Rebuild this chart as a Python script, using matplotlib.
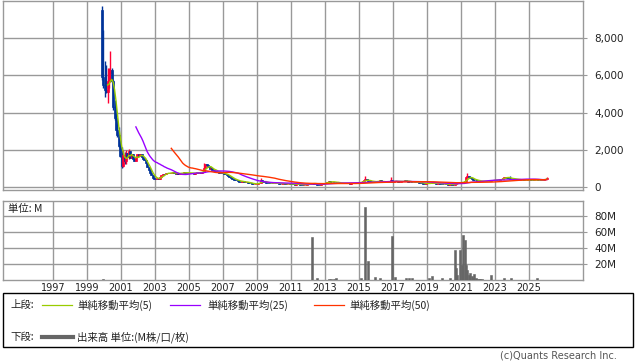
import matplotlib
matplotlib.use('Agg')
import matplotlib.pyplot as plt
from matplotlib.patches import Rectangle
from matplotlib.lines import Line2D
import numpy as np
import pandas as pd

# ---------------- data ----------------
start_year, start_month = 1999, 11          # first monthly bar
first_open = 9500

monthly_close = [
    # 1999 Nov-Dec
    5900, 5500,
    # 2000
    5200, 5100, 5700, 6100, 6300, 5700, 4300, 3700, 3100, 2800, 2200, 1700,
    # 2001
    1150, 1750, 1400, 1850, 1650, 1950, 1600, 1800, 1500, 1400, 1650, 1800,
    # 2002
    1700, 1800, 1650, 1550, 1450, 1300, 1100, 950, 800, 650, 520, 480,
    # 2003
    460, 500, 480, 560, 650, 740, 700, 800, 760, 800, 760, 780,
    # 2004
    820, 760, 740, 780, 720, 760, 800, 780, 820, 790, 760, 790,
    # 2005
    760, 800, 780, 740, 770, 830, 800, 820, 790, 840, 1050, 1250,
    # 2006
    1180, 1100, 1000, 1050, 950, 900, 880, 850, 820, 800, 780, 760,
    # 2007
    740, 700, 680, 620, 560, 500, 460, 420, 400, 380, 350, 320,
    # 2008
    300, 330, 290, 270, 300, 260, 240, 220, 200, 180, 190, 200,
    # 2009
    230, 260, 400, 350, 300, 280, 260, 250, 240, 230, 220, 230,
    # 2010
    240, 220, 230, 210, 200, 210, 220, 200, 190, 200, 210, 200,
    # 2011
    180, 170, 160, 170, 180, 170, 160, 150, 140, 150, 160, 170,
    # 2012
    180, 200, 260, 220, 200, 180, 160, 140, 120, 200, 250, 230,
    # 2013
    260, 300, 330, 300, 280, 320, 290, 270, 250, 260, 240, 230,
    # 2014
    230, 220, 240, 230, 220, 210, 220, 230, 240, 230, 250, 260,
    # 2015
    280, 320, 350, 380, 450, 400, 350, 330, 300, 320, 340, 310,
    # 2016
    300, 340, 380, 320, 300, 290, 280, 270, 300, 290, 380, 320,
    # 2017
    330, 350, 340, 320, 310, 330, 340, 350, 380, 360, 320, 300,
    # 2018
    290, 280, 300, 290, 280, 270, 260, 250, 240, 200, 180, 220,
    # 2019
    240, 230, 220, 230, 240, 220, 210, 230, 220, 210, 200, 190,
    # 2020
    200, 180, 140, 150, 170, 160, 150, 200, 230, 250, 260, 280,
    # 2021
    290, 300, 330, 550, 620, 560, 500, 450, 420, 400, 380, 370,
    # 2022
    350, 340, 330, 340, 350, 330, 340, 360, 350, 380, 400, 420,
    # 2023
    400, 380, 420, 440, 460, 520, 560, 580, 520, 500, 480, 460,
    # 2024
    480, 460, 440, 420, 400, 410, 420, 400, 390, 400, 410, 420,
    # 2025
    410, 400, 390, 400, 410, 420, 400, 390, 400, 420, 450, 480,
    # 2026 Jan
    500,
]

# wicks (month index, high, low)
wick_idx  = [0, 1, 2, 3, 4, 5, 6, 7, 8, 9, 10, 11, 12, 13, 14, 15, 16, 17, 19,
             72, 112, 186, 204, 258, 288, 314]
wick_high = [9680, 8440, 6750, 6530, 6370, 6400, 7280, 6370, 5730, 4670, 3970,
             3600, 3230, 2530, 2170, 2000, 1900, 2000, 2050,
             1320, 500, 610, 580, 750, 620, 540]
wick_low  = [5730, 5300, 4830, 5070, 4500, 5300, 5630, 5630, 4130, 3600, 3070,
             2700, 2170, 1630, 1040, 1100, 1250, 1250, 1550,
             1250, 380, 380, 300, 540, 560, 480]

# volume (million shares) by month index
vol_idx = [1, 148, 152, 160, 162, 164, 165, 183, 186, 188, 193, 196, 205, 207,
           215, 217, 219, 231, 233, 240, 246,
           249, 250, 251, 253, 254, 255, 256, 257, 258, 259, 260, 261, 262,
           263, 264, 265, 266, 267, 268, 275, 284, 289, 307]
vol_m   = [1.5, 54, 3, 1.2, 1.2, 1.5, 3, 2.5, 91, 23.7, 3.3, 1.9, 55, 4,
           2.5, 2.5, 2.5, 1.9, 5, 1.9, 1.9,
           37.5, 15, 6, 38, 19, 56, 50, 19, 12.5, 6, 9, 5, 2.5,
           7.5, 2.5, 1.5, 1.5, 1.5, 1.5, 6, 2, 2, 2]

year_ticks = list(range(1997, 2026, 2))
price_ticks = [0, 2000, 4000, 6000, 8000]
vol_ticks = [20, 40, 60, 80]

ma_windows = [5, 25, 50]
ma_colors = ['#99cc00', '#9900ff', '#ff3300']
ma_labels = ['単純移動平均(5)', '単純移動平均(25)', '単純移動平均(50)']

UP = '#ff0033'
DOWN = '#003399'
GRID = '#999999'

# ---------------- build ----------------
n = len(monthly_close)
idx = np.arange(n)
t = start_year + (start_month - 0.5) / 12 + idx / 12.0
close = np.array(monthly_close, dtype=float)
open_ = np.concatenate([[first_open], close[:-1]])
high = np.maximum(open_, close)
low = np.minimum(open_, close)
for i, h, l in zip(wick_idx, wick_high, wick_low):
    high[i] = max(high[i], h)
    low[i] = min(low[i], l)

W, H = 638, 362
fig = plt.figure(figsize=(W / 100, H / 100), dpi=100)
plt.rcParams['font.family'] = ['DejaVu Sans']
JP = ['Noto Sans CJK JP', 'DejaVu Sans']

def frac(x0, y0, x1, y1):
    return [x0 / W, 1 - y1 / H, (x1 - x0) / W, (y1 - y0) / H]

xmin = 1997 - 50 / 17
xmax = 1997 + 530 / 17

ax = fig.add_axes(frac(3, 0.5, 583, 189.5))
ax2 = fig.add_axes(frac(3, 201, 583, 280))

for a in (ax, ax2):
    a.set_xlim(xmin, xmax)
    a.set_xticks(year_ticks)
    a.grid(True, color=GRID, lw=1.0)
    a.set_axisbelow(True)
    for s in a.spines.values():
        s.set_color(GRID)
        s.set_linewidth(1.0)
    a.yaxis.tick_right()
    a.tick_params(axis='y', length=3, width=0.8, color=GRID, pad=5,
                  labelsize=7.5, labelcolor='#222222')
    a.tick_params(axis='x', length=0, labelsize=7, labelcolor='#222222', pad=2)

# price panel
ax.set_ylim(-107, 10000)
ax.set_yticks(price_ticks)
ax.set_yticklabels([f'{v:,}' for v in price_ticks])
ax.tick_params(axis='x', labelbottom=False)

bar_w = 0.115
up = close >= open_
colors = np.where(up, UP, DOWN)
ax.vlines(t, low, high, colors=colors, lw=1.0, zorder=3)
body_h = close - open_
ax.bar(t, body_h, bottom=open_, width=bar_w, color=colors,
       edgecolor=colors, linewidth=0.5, zorder=3)

s = pd.Series(close)
for w, c in zip(ma_windows, ma_colors):
    ma = s.rolling(w).mean()
    ax.plot(t, ma.values, color=c, lw=1.0, zorder=4)

# volume panel
ax2.set_ylim(0, 98.75)
ax2.set_yticks(vol_ticks)
ax2.set_yticklabels([f'{v}M' for v in vol_ticks])
vt = t[np.array(vol_idx)]
ax2.bar(vt, vol_m, width=bar_w, color='#666666', edgecolor='#666666',
        linewidth=0.4, zorder=3)
ax2.text(0.009, 0.96, '単位: M', transform=ax2.transAxes, ha='left',
         va='top', fontsize=7.5, family=JP, color='#222222', zorder=5)

# legend box
fig.add_artist(Rectangle((3 / W, 1 - 347 / H), 630 / W, 54 / H,
                         transform=fig.transFigure, fill=False,
                         edgecolor='black', lw=1.0))

def ftext(x, y, s, **kw):
    fig.text(x / W, 1 - y / H, s, va='center', ha='left', fontsize=7.5,
             family=JP, color='#222222', **kw)

def fline(x0, x1, y, color, lw):
    fig.add_artist(Line2D([x0 / W, x1 / W], [1 - y / H, 1 - y / H],
                          transform=fig.transFigure, color=color, lw=lw))

row1, row2 = 305, 337
ftext(10, row1, '上段:')
line_x = [(42, 72), (170, 200), (314, 344)]
text_x = [77, 207, 349]
for (x0, x1), tx, c, lab in zip(line_x, text_x, ma_colors, ma_labels):
    fline(x0, x1, row1, c, 0.9)
    ftext(tx, row1, lab)
ftext(10, row2, '下段:')
fline(42, 73, row2, '#666666', 3.0)
ftext(77, row2, '出来高 単位:(M株/口/枚)')

fig.text(617 / W, 1 - 356 / H, '(c)Quants Research Inc.', ha='right',
         va='center', fontsize=7, color='#555555')

fig.savefig('out.png', dpi=100)
